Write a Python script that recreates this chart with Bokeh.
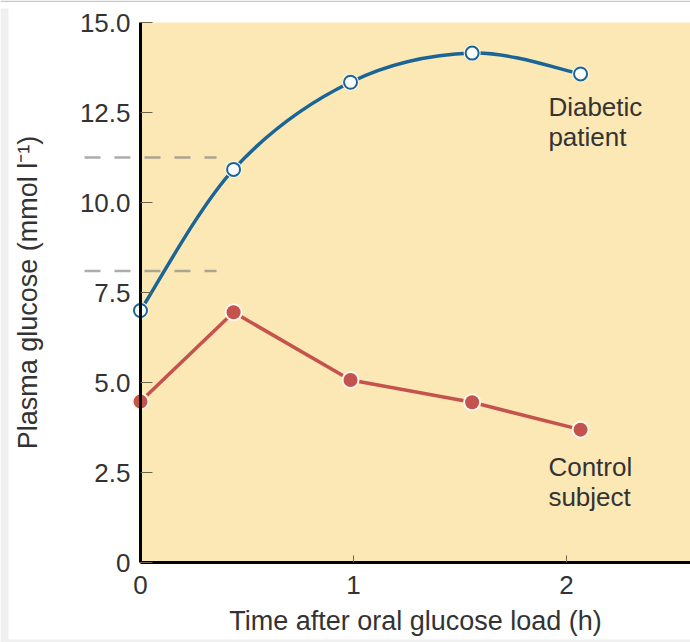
import numpy as np
from bokeh.plotting import figure
from bokeh.models import FixedTicker, BoxAnnotation, Label, NumeralTickFormatter, ColumnDataSource
from bokeh.embed import file_html
from bokeh.resources import INLINE

# ---- data ----
hours = [0.0, 0.437, 0.986, 1.557, 2.066]
diabetic = [7.0, 10.92, 13.34, 14.15, 13.57]
control = [4.47, 6.95, 5.07, 4.45, 3.69]
x_ticks = [0, 1, 2]
y_ticks = [0, 2.5, 5, 7.5, 10, 12.5, 15]
ref_levels = [11.25, 8.1]          # dashed reference glucose levels
ref_extent = (-0.263, 0.357)       # hours spanned by the dashed lines

FONT = "Liberation Sans"
TXT = "#333333"
BG = "#fbe8b5"
BLUE = "#1b6596"
RED = "#c4524d"

W, H = 690, 642
PX_X, PX_Y = 213.0, 36.0           # pixels per hour / per mmol
X0, X1 = -140 / PX_X, (W - 140) / PX_X
Y0, Y1 = -(H - 562) / PX_Y, 562 / PX_Y

p = figure(width=W, height=H, x_range=(X0, X1), y_range=(Y0, Y1),
           output_backend="svg", toolbar_location=None, title=None,
           min_border_left=0, min_border_right=0, min_border_top=0,
           min_border_bottom=0, background_fill_color="white",
           border_fill_color="white", outline_line_color=None)
p.grid.visible = False

# page frame decoration (light grey margins of the original)
p.add_layout(BoxAnnotation(right=X0 + 8 / PX_X, top=Y1 - 8 / PX_Y, fill_color="#f0f0f0",
                           fill_alpha=1.0, line_color=None, level="underlay"))
p.add_layout(BoxAnnotation(top=Y0 + 3 / PX_Y, fill_color="#f0f0f0",
                           fill_alpha=1.0, line_color=None, level="underlay"))
p.add_layout(BoxAnnotation(bottom=Y1 - 1.5 / PX_Y, fill_color="#c8c8c8",
                           fill_alpha=1.0, line_color=None, level="underlay"))

# yellow plotting area
p.add_layout(BoxAnnotation(left=0, bottom=0, top=15, fill_color=BG, fill_alpha=1.0,
                           line_color=None, level="underlay"))

# dashed reference lines
p.segment(x0=[ref_extent[0]] * 2, x1=[ref_extent[1]] * 2, y0=ref_levels, y1=ref_levels,
          line_color="#7f7f7f", line_alpha=0.65, line_width=2.5, line_dash="16 14")

# y axis at t = 0
ya = p.yaxis[0]
ya.fixed_location = 0
ya.bounds = (0, 15)
ya.ticker = FixedTicker(ticks=y_ticks)
ya.formatter = NumeralTickFormatter(format="0.0")
ya.major_label_overrides = {0: "0"}
ya.axis_label = "Plasma glucose (mmol l\u207b\u00b9)"
ya.axis_line_color = "black"
ya.axis_line_width = 3
ya.major_tick_in = 12
ya.major_tick_out = 0
ya.major_tick_line_color = "#6e6548"
ya.minor_tick_line_color = None
ya.major_label_standoff = 10
ya.axis_label_standoff = 34
ya.major_label_text_font = FONT
ya.major_label_text_font_size = "26px"
ya.major_label_text_color = TXT
ya.axis_label_text_font = FONT
ya.axis_label_text_font_size = "27px"
ya.axis_label_text_font_style = "normal"
ya.axis_label_text_color = TXT

# x axis at glucose = 0
xa = p.xaxis[0]
xa.fixed_location = 0
xa.bounds = (0, X1)
xa.ticker = FixedTicker(ticks=x_ticks)
xa.axis_label = "Time after oral glucose load (h)"
xa.axis_line_color = "black"
xa.axis_line_width = 3
xa.major_tick_in = 7
xa.major_tick_out = 0
xa.major_tick_line_color = "#6e6548"
xa.minor_tick_line_color = None
xa.major_label_standoff = 13
xa.axis_label_standoff = 9
xa.major_label_text_font = FONT
xa.major_label_text_font_size = "26px"
xa.major_label_text_color = TXT
xa.axis_label_text_font = FONT
xa.axis_label_text_font_size = "27px"
xa.axis_label_text_font_style = "normal"
xa.axis_label_text_color = TXT

# smooth curve for the diabetic patient (Catmull-Rom -> cubic Bezier)
P = np.column_stack([hours, diabetic])
Pe = np.vstack([P[0], P, P[-1]])
c0 = Pe[1:-2] + (Pe[2:-1] - Pe[0:-3]) / 6.0
c1 = Pe[2:-1] - (Pe[3:] - Pe[1:-2]) / 6.0
p.bezier(x0=P[:-1, 0], y0=P[:-1, 1], x1=P[1:, 0], y1=P[1:, 1],
         cx0=c0[:, 0], cy0=c0[:, 1], cx1=c1[:, 0], cy1=c1[:, 1],
         line_color=BLUE, line_width=3.5)

# control subject: straight segments
p.line(hours, control, line_color=RED, line_width=3.5)

src_d = ColumnDataSource(dict(x=hours, y=diabetic))
src_c = ColumnDataSource(dict(x=hours, y=control))
p.scatter("x", "y", source=src_d, size=17, fill_color="#fdf6e6", line_color=None)
p.scatter("x", "y", source=src_d, size=13, fill_color="white", line_color=BLUE, line_width=2)
p.scatter("x", "y", source=src_c, size=18, fill_color="#fff6ec", line_color=None)
p.scatter("x", "y", source=src_c, size=14, fill_color=RED, line_color=None)

# series labels
for txt, lx, ly in [("Diabetic", 1.915, 12.64), ("patient", 1.915, 11.81),
                    ("Control", 1.915, 2.64), ("subject", 1.915, 1.81)]:
    p.add_layout(Label(x=lx, y=ly, text=txt, text_font=FONT, text_font_size="26px",
                       text_color=TXT, text_baseline="alphabetic", text_align="left"))

open("out.html", "w").write(file_html(p, INLINE))
